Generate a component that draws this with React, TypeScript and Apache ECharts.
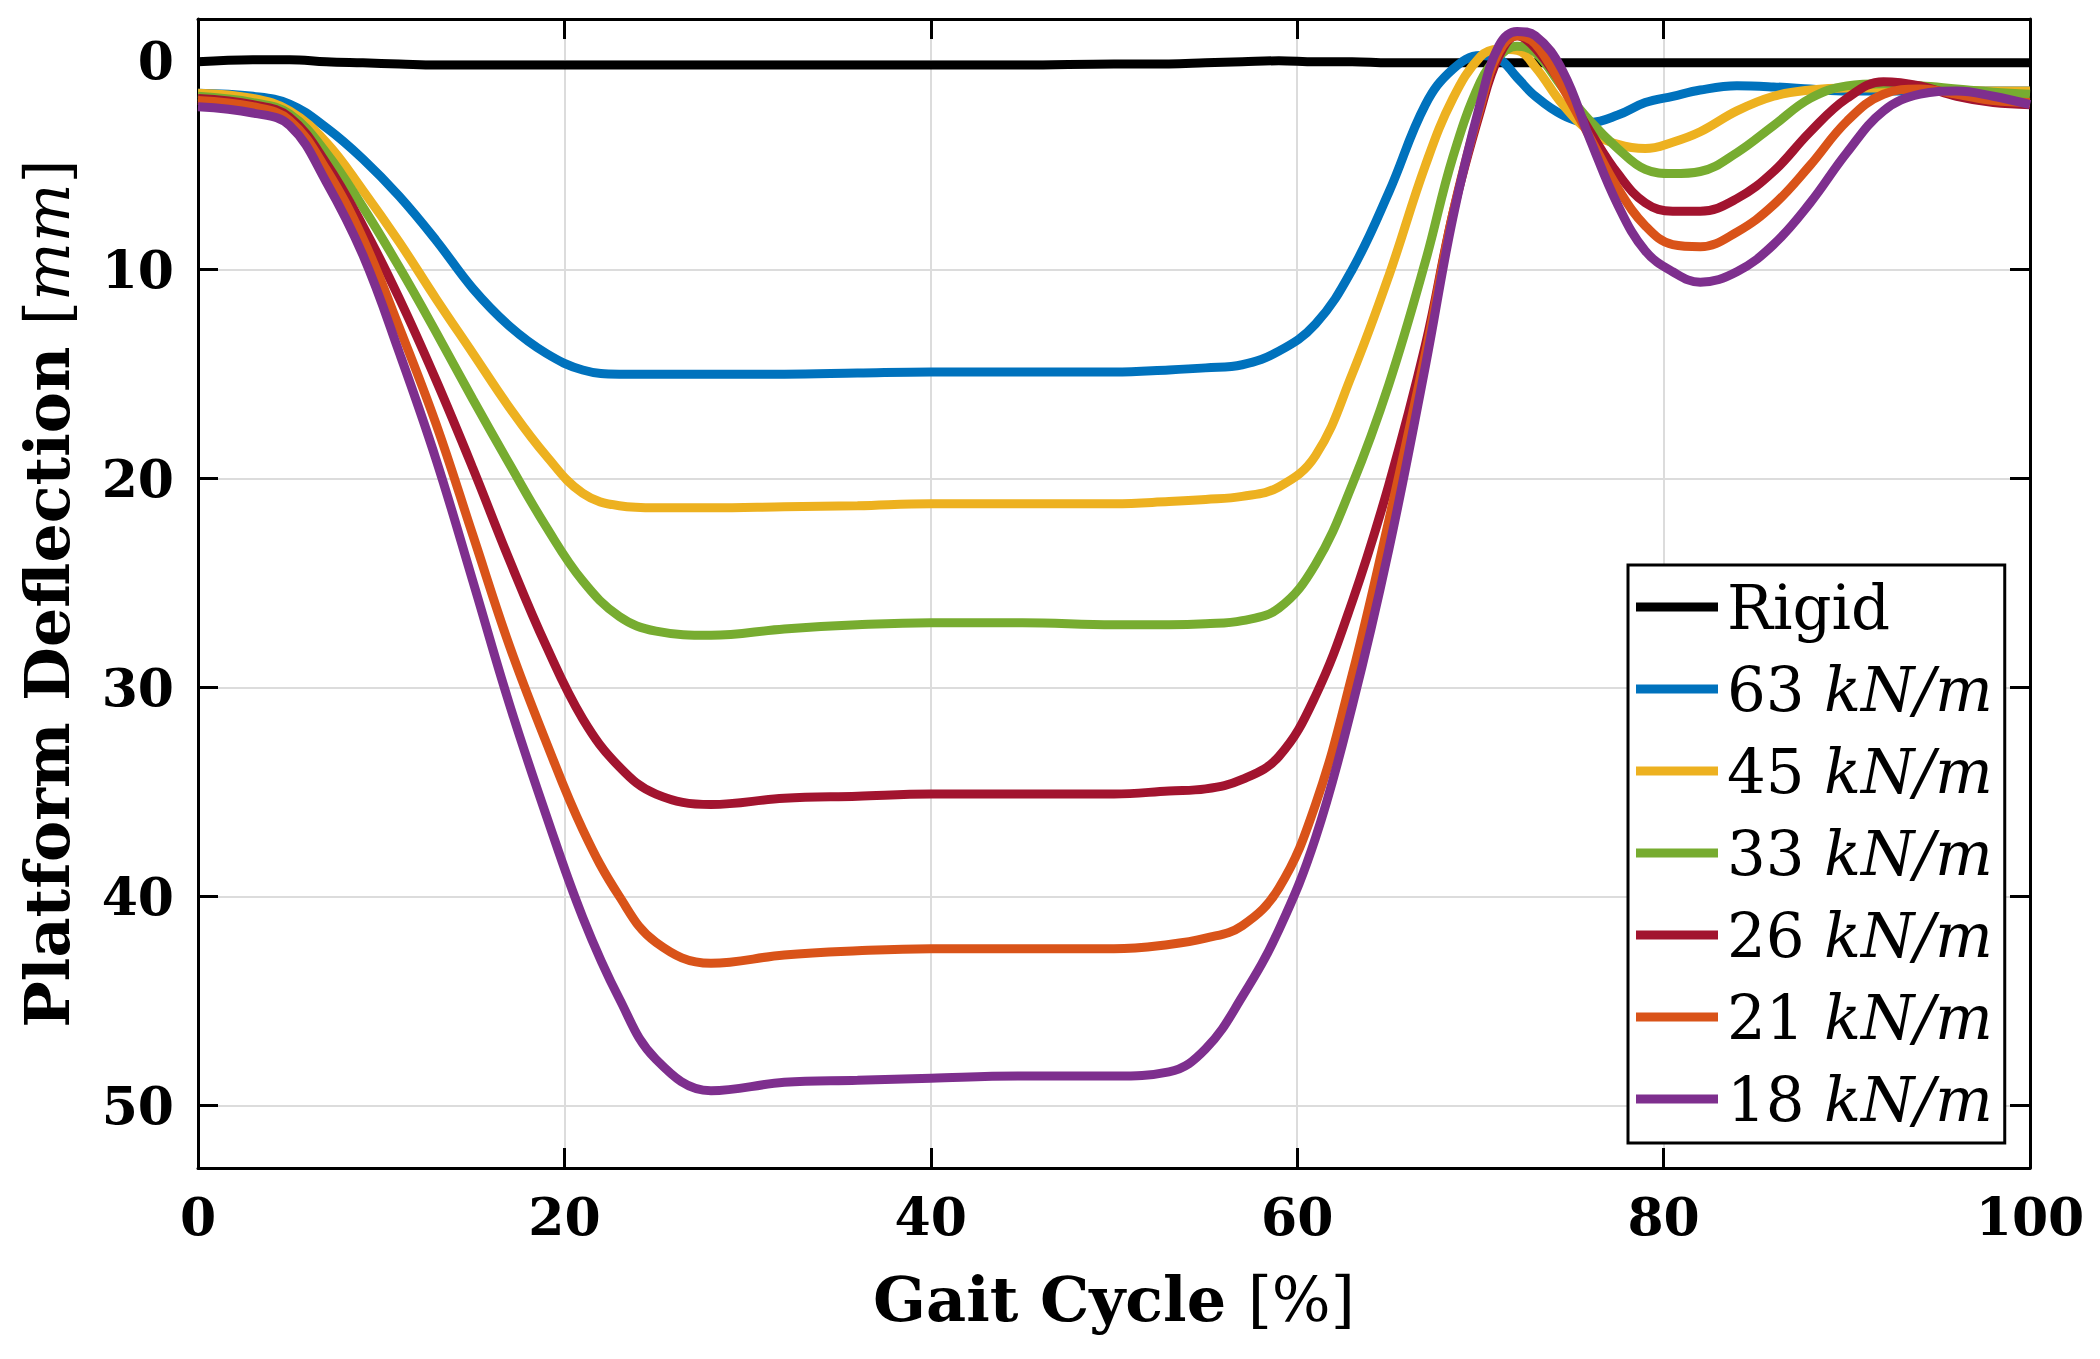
import React, { useEffect, useRef } from "react";
import * as echarts from "echarts";

const gaitX = [0, 3, 5, 7, 9, 11, 13, 15, 17, 19, 21, 23, 25, 28, 32, 36, 40, 45, 50, 53, 55, 57, 59, 61, 63, 65, 67, 68.5, 70, 71, 72, 73, 74.5, 76, 77.5, 79, 80.5, 82, 84, 86, 88, 90, 92, 94, 96, 98, 100];

const rigid = [0.05, -0.05, -0.05, 0.05, 0.1, 0.15, 0.2, 0.2, 0.2, 0.2, 0.2, 0.2, 0.2, 0.2, 0.2, 0.2, 0.2, 0.2, 0.15, 0.15, 0.1, 0.05, 0.0, 0.05, 0.05, 0.1, 0.1, 0.1, 0.1, 0.1, 0.1, 0.1, 0.1, 0.1, 0.1, 0.1, 0.1, 0.1, 0.1, 0.1, 0.1, 0.1, 0.1, 0.1, 0.1, 0.1, 0.1];
const k63 = [1.55, 1.7, 2.07, 3.2, 4.7, 6.5, 8.6, 10.9, 12.7, 14.0, 14.8, 15.0, 15.0, 15.0, 15.0, 14.95, 14.9, 14.9, 14.9, 14.8, 14.7, 14.55, 13.9, 12.6, 10.0, 6.3, 2.1, 0.4, -0.25, -0.1, 0.8, 1.7, 2.6, 2.95, 2.6, 2.0, 1.7, 1.4, 1.2, 1.25, 1.35, 1.45, 1.45, 1.45, 1.45, 1.45, 1.45];
const k45 = [1.55, 1.8, 2.4, 3.9, 6.2, 8.7, 11.4, 14.0, 16.6, 18.9, 20.7, 21.3, 21.4, 21.4, 21.35, 21.3, 21.2, 21.2, 21.2, 21.1, 21.0, 20.85, 20.4, 18.9, 15.0, 10.3, 5.0, 1.8, -0.2, -0.55, -0.5, 0.3, 2.1, 3.4, 4.0, 4.2, 3.9, 3.4, 2.4, 1.7, 1.4, 1.3, 1.3, 1.35, 1.4, 1.45, 1.45];
const k33 = [1.7, 2.0, 2.55, 4.4, 7.0, 9.9, 13.0, 16.2, 19.3, 22.3, 24.9, 26.6, 27.3, 27.5, 27.2, 27.0, 26.9, 26.9, 27.0, 27.0, 26.95, 26.8, 26.2, 24.1, 20.3, 15.5, 9.6, 4.6, 1.0, -0.2, -0.7, -0.4, 1.3, 2.9, 4.2, 5.2, 5.4, 5.3, 4.4, 3.1, 1.8, 1.2, 1.1, 1.2, 1.35, 1.5, 1.6];
const k26 = [1.8, 2.1, 2.7, 4.9, 7.9, 11.4, 15.3, 19.5, 23.9, 28.0, 31.5, 33.8, 35.1, 35.6, 35.3, 35.2, 35.1, 35.1, 35.1, 34.95, 34.85, 34.4, 33.3, 30.4, 25.9, 20.3, 13.6, 7.3, 2.4, -0.2, -1.2, -0.6, 1.2, 3.4, 5.4, 6.8, 7.2, 7.2, 6.6, 5.3, 3.4, 1.8, 1.0, 1.2, 1.7, 2.0, 2.1];
const k21 = [1.9, 2.2, 2.85, 5.2, 8.5, 12.8, 17.4, 22.7, 28.0, 32.6, 36.8, 40.0, 42.2, 43.2, 42.8, 42.6, 42.5, 42.5, 42.5, 42.3, 42.0, 41.4, 39.6, 35.6, 29.4, 22.0, 14.0, 7.3, 2.2, -0.4, -1.2, -0.8, 1.3, 3.7, 6.1, 7.9, 8.8, 8.9, 8.2, 6.9, 5.0, 2.9, 1.6, 1.35, 1.6, 1.9, 2.0];
const k18 = [2.2, 2.5, 3.1, 5.8, 9.3, 14.0, 19.1, 24.9, 30.8, 36.1, 41.0, 44.9, 47.8, 49.3, 48.9, 48.8, 48.7, 48.6, 48.6, 48.4, 47.3, 44.8, 41.6, 37.2, 30.9, 23.4, 14.6, 7.5, 2.0, -0.7, -1.4, -1.2, 0.5, 3.8, 6.9, 9.1, 10.1, 10.6, 10.1, 8.8, 6.8, 4.4, 2.4, 1.6, 1.45, 1.7, 2.1];

const seriesNames = ["Rigid", "63 kN/m", "45 kN/m", "33 kN/m", "26 kN/m", "21 kN/m", "18 kN/m"];
const seriesValues = [rigid, k63, k45, k33, k26, k21, k18];
const seriesColors = ["#000000", "#0072BD", "#EDB120", "#77AC30", "#A2142F", "#D95319", "#7E2F8E"];

const xTicks = [0, 20, 40, 60, 80, 100];
const yTicks = [0, 10, 20, 30, 40, 50];

const FONT = "DejaVu Serif";

export default function App() {
  const ref = useRef<HTMLDivElement>(null);

  useEffect(() => {
    if (!ref.current) return;
    const chart = echarts.init(ref.current, null, { renderer: "svg" });

    const tickLabel = {
      fontFamily: FONT,
      fontWeight: "bold" as const,
      fontSize: 52,
      color: "#000",
    };

    const series = seriesNames.map((name, si) => ({
      name,
      type: "line",
      data: gaitX.map((x, i) => [x, seriesValues[si][i]]),
      showSymbol: false,
      smooth: 0.4,
      lineStyle: { color: seriesColors[si], width: 9 },
      itemStyle: { color: seriesColors[si] },
      xAxisIndex: 0,
      yAxisIndex: 0,
    }));

    const option: any = {
      animation: false,
      backgroundColor: "#fff",
      grid: {
        left: 198,
        right: 70,
        top: 19,
        bottom: 191,
        containLabel: false,
        outerBoundsMode: "none",
      },
      xAxis: [
        {
          type: "value",
          min: 0,
          max: 100,
          interval: 20,
          position: "bottom",
          name: "{b|Gait Cycle }{r|[%]}",
          nameLocation: "middle",
          nameGap: 100,
          nameTextStyle: {
            rich: {
              b: { fontFamily: FONT, fontWeight: "bold", fontSize: 62, color: "#000" },
              r: { fontFamily: FONT, fontSize: 62, color: "#000" },
            },
          },
          axisLine: { show: true, onZero: false, lineStyle: { color: "#000", width: 3 } },
          axisTick: { show: true, inside: true, length: 20, lineStyle: { color: "#000", width: 3 } },
          axisLabel: {
            ...tickLabel,
            margin: 22,
            formatter: (v: number) => (xTicks.includes(v) ? String(v) : ""),
          },
          splitLine: { show: true, lineStyle: { color: "#dcdcdc", width: 2 } },
        },
        {
          type: "value",
          min: 0,
          max: 100,
          interval: 20,
          position: "top",
          axisLine: { show: true, onZero: false, lineStyle: { color: "#000", width: 3 } },
          axisTick: { show: true, inside: true, length: 20, lineStyle: { color: "#000", width: 3 } },
          axisLabel: { show: false },
          splitLine: { show: false },
        },
      ],
      yAxis: [
        {
          type: "value",
          inverse: true,
          min: -2,
          max: 53,
          splitNumber: 5,
          position: "left",
          name: "{b|Platform Deflection }{r|[}{i|mm}{r|]}",
          nameLocation: "middle",
          nameRotate: 90,
          nameGap: 120,
          nameTextStyle: {
            rich: {
              b: { fontFamily: FONT, fontWeight: "bold", fontSize: 62, color: "#000" },
              r: { fontFamily: FONT, fontSize: 62, color: "#000" },
              i: { fontFamily: FONT, fontStyle: "italic", fontSize: 62, color: "#000" },
            },
          },
          axisLine: { show: true, onZero: false, lineStyle: { color: "#000", width: 3 } },
          axisTick: { show: true, inside: true, length: 20, lineStyle: { color: "#000", width: 3 } },
          axisLabel: {
            ...tickLabel,
            margin: 24,
            formatter: (v: number) => (yTicks.includes(v) ? String(v) : ""),
          },
          splitLine: { show: true, lineStyle: { color: "#dcdcdc", width: 2 } },
        },
        {
          type: "value",
          inverse: true,
          min: -2,
          max: 53,
          splitNumber: 5,
          position: "right",
          axisLine: { show: true, onZero: false, lineStyle: { color: "#000", width: 3 } },
          axisTick: { show: true, inside: true, length: 20, lineStyle: { color: "#000", width: 3 } },
          axisLabel: { show: false },
          splitLine: { show: false },
        },
      ],
      legend: {
        show: true,
        orient: "vertical",
        left: 1628,
        top: 565,
        data: seriesNames,
        icon: "rect",
        itemWidth: 82,
        itemHeight: 9,
        itemGap: 18,
        padding: [10, 12, 12, 8],
        backgroundColor: "#fff",
        borderColor: "#000",
        borderWidth: 3,
        borderRadius: 0,
        formatter: (name: string) => {
          if (name === "Rigid") return "{r|Rigid}";
          const parts = name.split(" ");
          return `{r|${parts[0]} }{i|${parts[1]}}`;
        },
        textStyle: {
          color: "#000",
          fontFamily: FONT,
          fontSize: 61,
          lineHeight: 64,
          padding: [0, 0, 0, 4],
          rich: {
            r: { fontFamily: FONT, fontSize: 61, lineHeight: 64, color: "#000" },
            i: { fontFamily: FONT, fontStyle: "italic", fontSize: 61, lineHeight: 64, color: "#000" },
          },
        },
      },
      series,
    };

    chart.setOption(option);
    return () => chart.dispose();
  }, []);

  return (
    <div
      ref={ref}
      style={{ position: "absolute", left: 0, top: 0, width: 2100, height: 1359, background: "#fff" }}
    />
  );
}
